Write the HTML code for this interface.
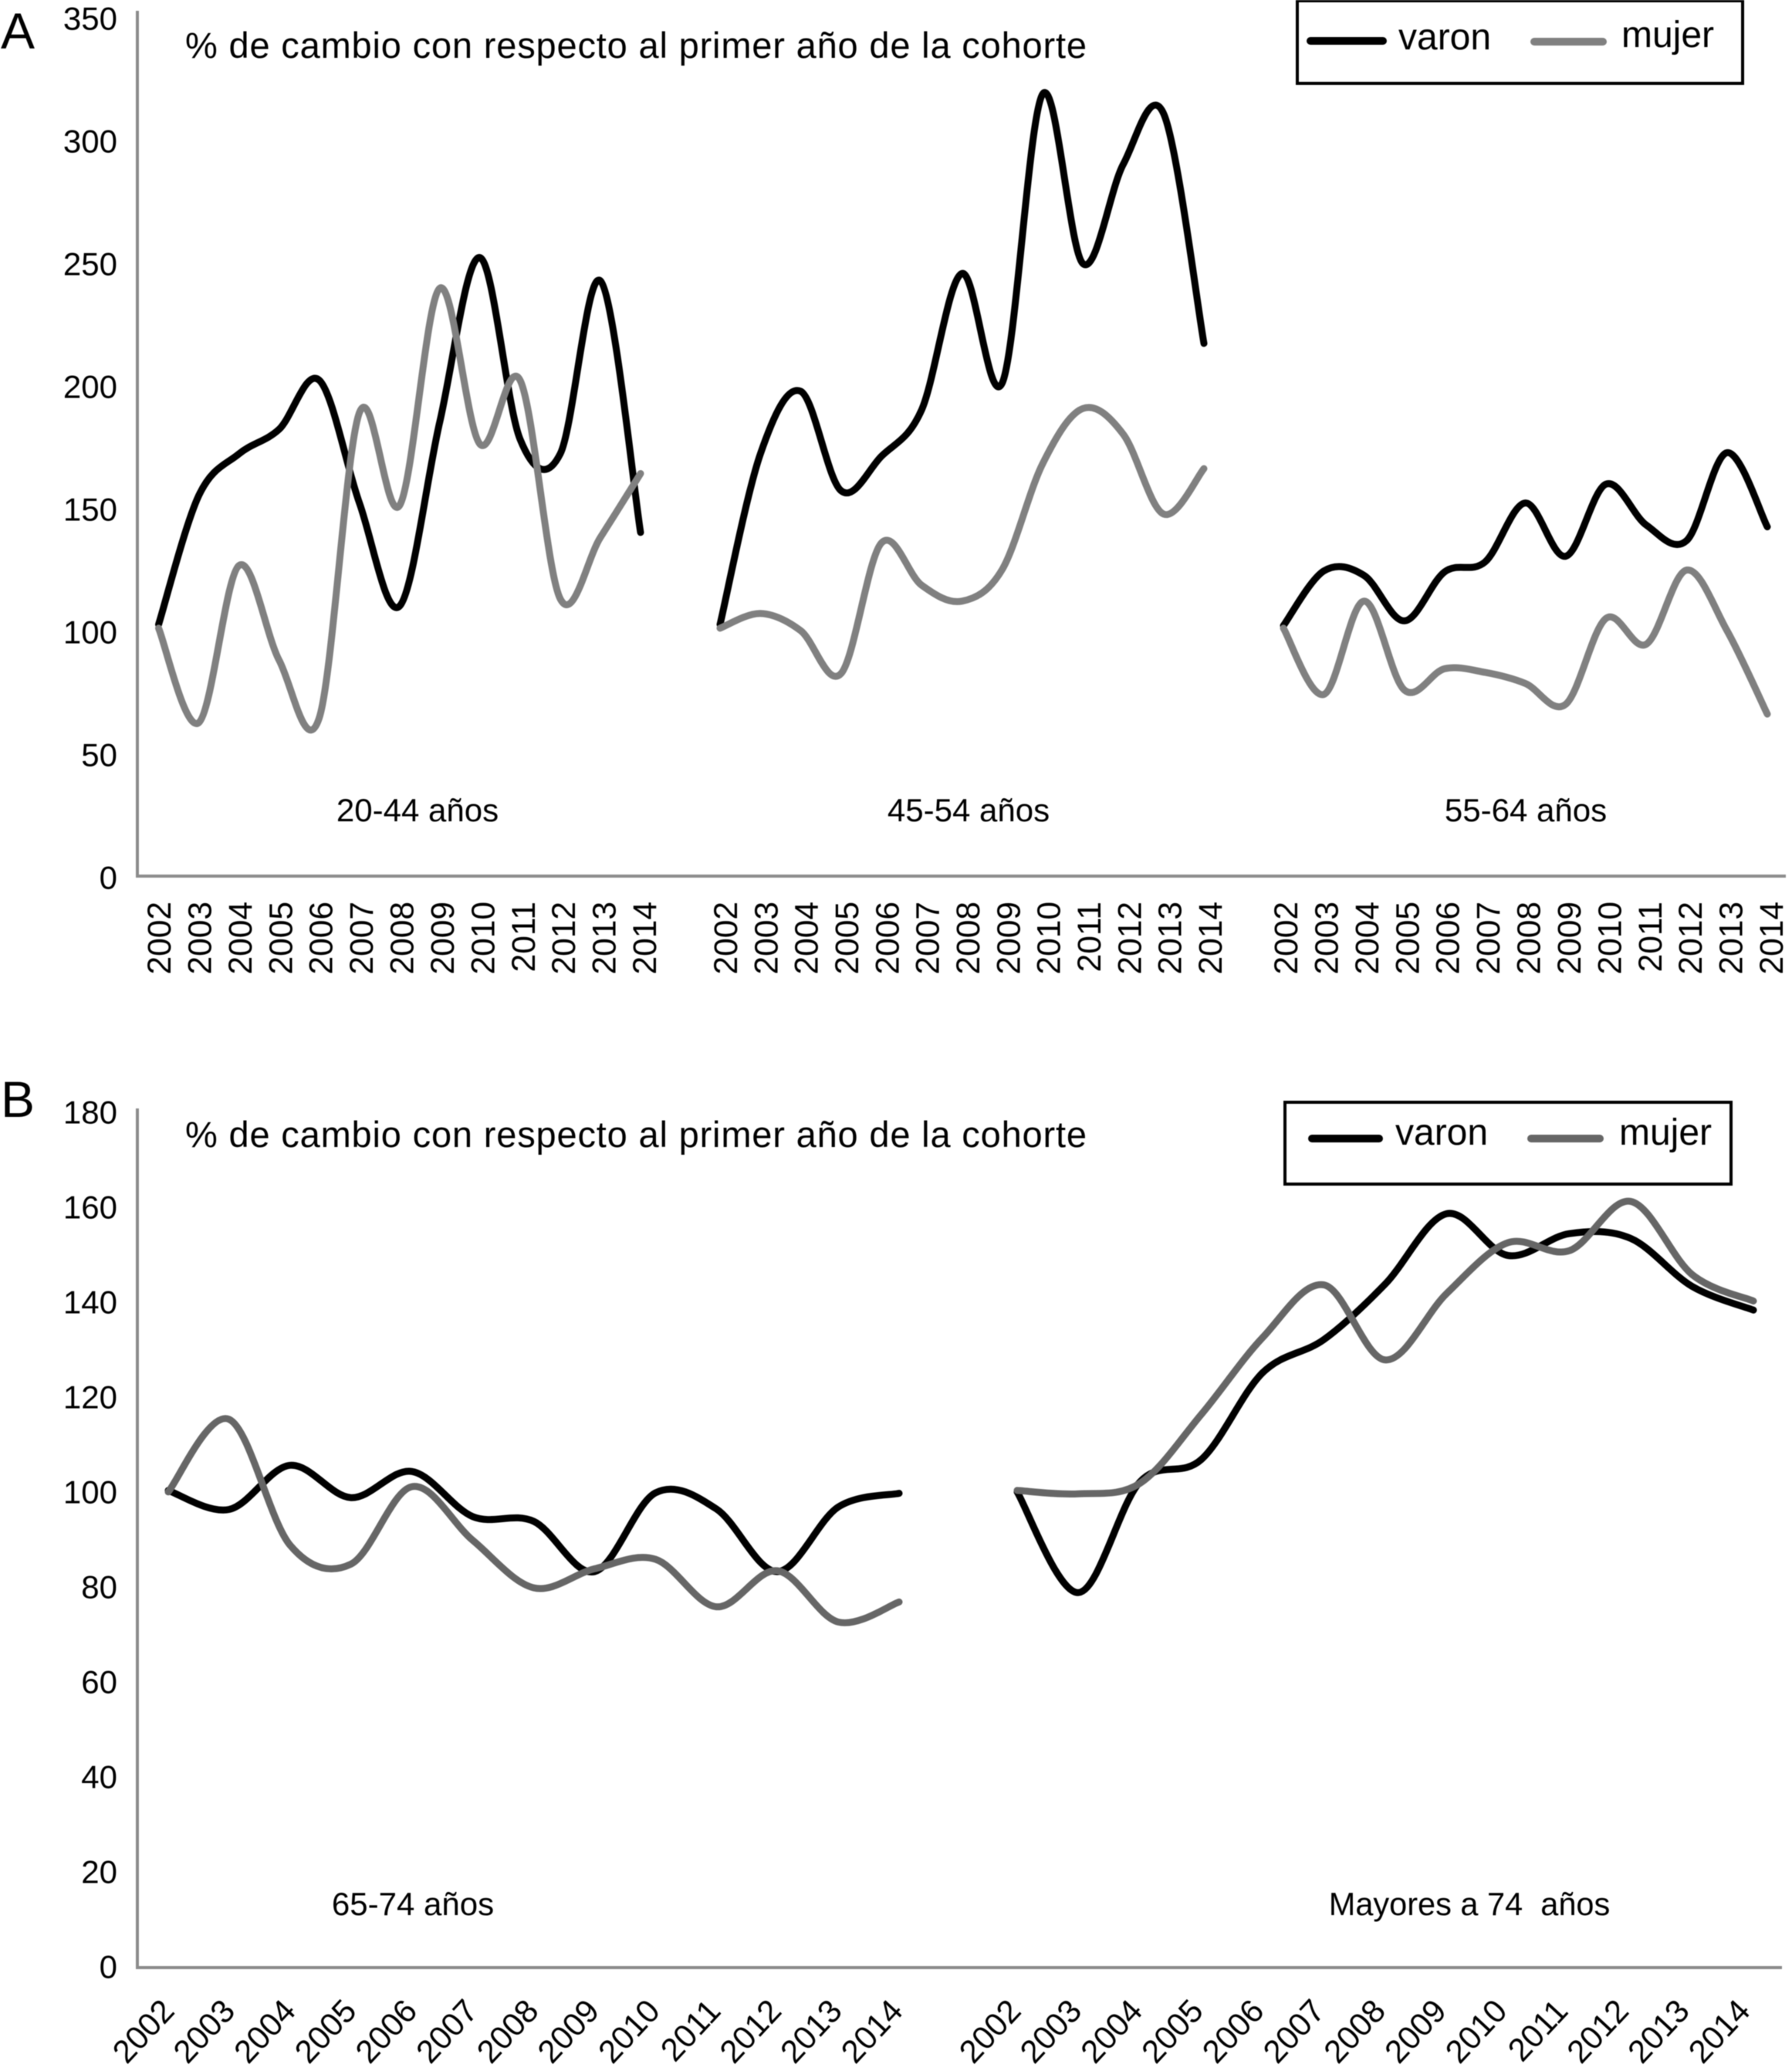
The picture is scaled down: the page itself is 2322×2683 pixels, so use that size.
<!DOCTYPE html>
<html lang="es">
<head>
<meta charset="utf-8">
<title>% de cambio con respecto al primer año de la cohorte</title>
<style>
html,body{margin:0;padding:0;background:#fff;}
svg{display:block;filter:blur(.6px);}
text{font-family:"Liberation Sans",sans-serif;fill:#000;white-space:pre;}
</style>
</head>
<body>
<svg id="chart" xmlns="http://www.w3.org/2000/svg" width="2322" height="2683" viewBox="0 0 2322 2683">
  <rect width="2322" height="2683" fill="#fff"/>

  <text x="1" y="63" font-size="66">A</text>
  <text x="1" y="1447" font-size="66">B</text>

  <g id="panelA">
    <line x1="178" y1="14" x2="178" y2="1137" stroke="#8c8c8c" stroke-width="4"/>
    <line x1="176" y1="1135" x2="2314" y2="1135" stroke="#8c8c8c" stroke-width="4"/>
    <text x="240" y="75" font-size="47" textLength="1168" lengthAdjust="spacing">% de cambio con respecto al primer año de la cohorte</text>
    <text x="541" y="1064" font-size="42" text-anchor="middle">20-44 años</text>
    <text x="1255" y="1064" font-size="42" text-anchor="middle">45-54 años</text>
    <text x="1977" y="1064" font-size="42" text-anchor="middle">55-64 años</text>
  </g>

  <g id="panelB">
    <line x1="178" y1="1436" x2="178" y2="2551" stroke="#8c8c8c" stroke-width="4"/>
    <line x1="176" y1="2549" x2="2309" y2="2549" stroke="#8c8c8c" stroke-width="4"/>
    <text x="240" y="1486" font-size="47" textLength="1168" lengthAdjust="spacing">% de cambio con respecto al primer año de la cohorte</text>
    <text x="535" y="2481" font-size="42" text-anchor="middle">65-74 años</text>
    <text x="1904" y="2481" font-size="41.5" text-anchor="middle">Mayores a 74  años</text>
  </g>

  <g>
    <rect x="1681" y="1" width="577" height="107" fill="#fff" stroke="#000" stroke-width="4"/>
    <line x1="1698" y1="53" x2="1792" y2="53" stroke="#000" stroke-width="10" stroke-linecap="round"/>
    <text x="1812" y="64" font-size="48">varon</text>
    <line x1="1988" y1="54" x2="2077" y2="54" stroke="#808080" stroke-width="10" stroke-linecap="round"/>
    <text x="2101" y="61" font-size="48">mujer</text>
  </g>

  <g>
    <rect x="1665" y="1428" width="578" height="106" fill="#fff" stroke="#000" stroke-width="4"/>
    <line x1="1700" y1="1475" x2="1787" y2="1475" stroke="#000" stroke-width="10" stroke-linecap="round"/>
    <text x="1808" y="1483" font-size="48">varon</text>
    <line x1="1984" y1="1475" x2="2073" y2="1475" stroke="#666" stroke-width="10" stroke-linecap="round"/>
    <text x="2098" y="1483" font-size="48">mujer</text>
  </g>
</svg>

<script>
// ---- data ----
var years = ["2002","2003","2004","2005","2006","2007","2008","2009","2010","2011","2012","2013","2014"];
var ticksA = [0,50,100,150,200,250,300,350];
var ticksB = [0,20,40,60,80,100,120,140,160,180];

var varon2044 = [102.5,155,172,182,202,152,110,185,252,178,172,242.5,140];
var mujer2044 = [101,62.5,126.5,88,64.5,188.8,151,239.5,176,202,113,138,164];
var varon4554 = [102.5,172,197.5,157,171,190,245.5,201,318.6,249.5,290,310.6,217];
var mujer4554 = [101,107,100,82.5,135.7,118.5,112,125,168,190.5,180,147.5,166];
var varon5564 = [102,124.3,122.5,104,124,128,152,130.3,159.7,143,136.7,172.5,142.3];
var mujer5564 = [101,74,112,75.8,84.5,83,78.5,70,105,94.5,124.7,100,66];
var varon6574 = [100.5,96.5,105.8,99,104.5,95,94,83.4,100,96.6,83.4,97,99.9];
var mujer6574 = [100.2,115.5,89,85,101.3,90,80,84,86,76,83.6,72.8,77];
var varon74 = [100.2,79,102.3,107,125.3,132.3,144,158.8,150,154.6,153.6,143.5,138.5];
var mujer74 = [100.5,99.8,102,116.5,132.7,143.8,128,142,152.7,151,161.4,146,140.4];

// ---- axis functions ----
function yA(v){ return 1135 - v * 3.18; }
function yB(v){ return 2549 - v * 6.15; }
function xScale(x0, x1){ return function(i){ return x0 + (x1 - x0) * i / (years.length - 1); }; }

var NS = "http://www.w3.org/2000/svg";
var svg = document.getElementById("chart");
var panelA = document.getElementById("panelA");
var panelB = document.getElementById("panelB");

function smoothPath(values, xf, yf){
  var p = values.map(function(v, i){ return [xf(i), yf(v)]; });
  var d = "M" + p[0][0].toFixed(1) + " " + p[0][1].toFixed(1);
  for (var i = 0; i < p.length - 1; i++){
    var a = p[Math.max(i - 1, 0)], b = p[i], c = p[i + 1], e = p[Math.min(i + 2, p.length - 1)];
    var c1x = b[0] + (c[0] - a[0]) / 6, c1y = b[1] + (c[1] - a[1]) / 6;
    var c2x = c[0] - (e[0] - b[0]) / 6, c2y = c[1] - (e[1] - b[1]) / 6;
    d += "C" + c1x.toFixed(1) + " " + c1y.toFixed(1) + " " + c2x.toFixed(1) + " " + c2y.toFixed(1) + " " + c[0].toFixed(1) + " " + c[1].toFixed(1);
  }
  return d;
}

function drawSeries(parent, name, values, xf, yf, color){
  var path = document.createElementNS(NS, "path");
  
  
  path.setAttribute("d", smoothPath(values, xf, yf));
  path.setAttribute("fill", "none");
  path.setAttribute("stroke", color);
  path.setAttribute("stroke-width", "9");
  path.setAttribute("stroke-linecap", "round");
  path.setAttribute("stroke-linejoin", "round");
  parent.appendChild(path);
}

function drawYTicks(parent, ticks, yf, right, shift, prefix){
  ticks.forEach(function(t){
    var el = document.createElementNS(NS, "text");
    
    
    el.setAttribute("x", right);
    el.setAttribute("y", yf(t) + shift);
    el.setAttribute("font-size", "42");
    el.setAttribute("text-anchor", "end");
    el.textContent = String(t);
    parent.appendChild(el);
  });
}

function drawYearLabels(parent, xf, yTop, angle, size, prefix){
  years.forEach(function(label, i){
    var el = document.createElementNS(NS, "text");
    
    
    el.setAttribute("font-size", size);
    el.setAttribute("text-anchor", "end");
    el.setAttribute("transform", "translate(" + xf(i).toFixed(1) + " " + yTop + ") rotate(" + angle + ")");
    el.textContent = label;
    parent.appendChild(el);
  });
}

// ---- tick labels ----
drawYTicks(panelA, ticksA, yA, 152, 16.5, "panel-a");
drawYTicks(panelB, ticksB, yB, 152, 13.5, "panel-b");

// ---- year labels ----
drawYearLabels(panelA, xScale(221, 850), 1168, -90, 42.5, "cohort-20-44");
drawYearLabels(panelA, xScale(955, 1583), 1168, -90, 42.5, "cohort-45-54");
drawYearLabels(panelA, xScale(1681, 2310), 1168, -90, 42.5, "cohort-55-64");
drawYearLabels(panelB, xScale(228, 1172), 2607, -47, 42, "cohort-65-74");
drawYearLabels(panelB, xScale(1325, 2270), 2607, -47, 42, "cohort-mayores-74");

// ---- series ----
var x1 = xScale(205.5, 830);
var x2 = xScale(933, 1560);
var x3 = xScale(1663, 2290);
var x4 = xScale(218, 1165);
var x5 = xScale(1318, 2272);

drawSeries(panelA, "varon-line-20-44", varon2044, x1, yA, "#000");
drawSeries(panelA, "mujer-line-20-44", mujer2044, x1, yA, "#808080");
drawSeries(panelA, "varon-line-45-54", varon4554, x2, yA, "#000");
drawSeries(panelA, "mujer-line-45-54", mujer4554, x2, yA, "#808080");
drawSeries(panelA, "varon-line-55-64", varon5564, x3, yA, "#000");
drawSeries(panelA, "mujer-line-55-64", mujer5564, x3, yA, "#808080");
drawSeries(panelB, "varon-line-65-74", varon6574, x4, yB, "#000");
drawSeries(panelB, "mujer-line-65-74", mujer6574, x4, yB, "#666");
drawSeries(panelB, "varon-line-mayores-74", varon74, x5, yB, "#000");
drawSeries(panelB, "mujer-line-mayores-74", mujer74, x5, yB, "#666");
</script>
</body>
</html>
